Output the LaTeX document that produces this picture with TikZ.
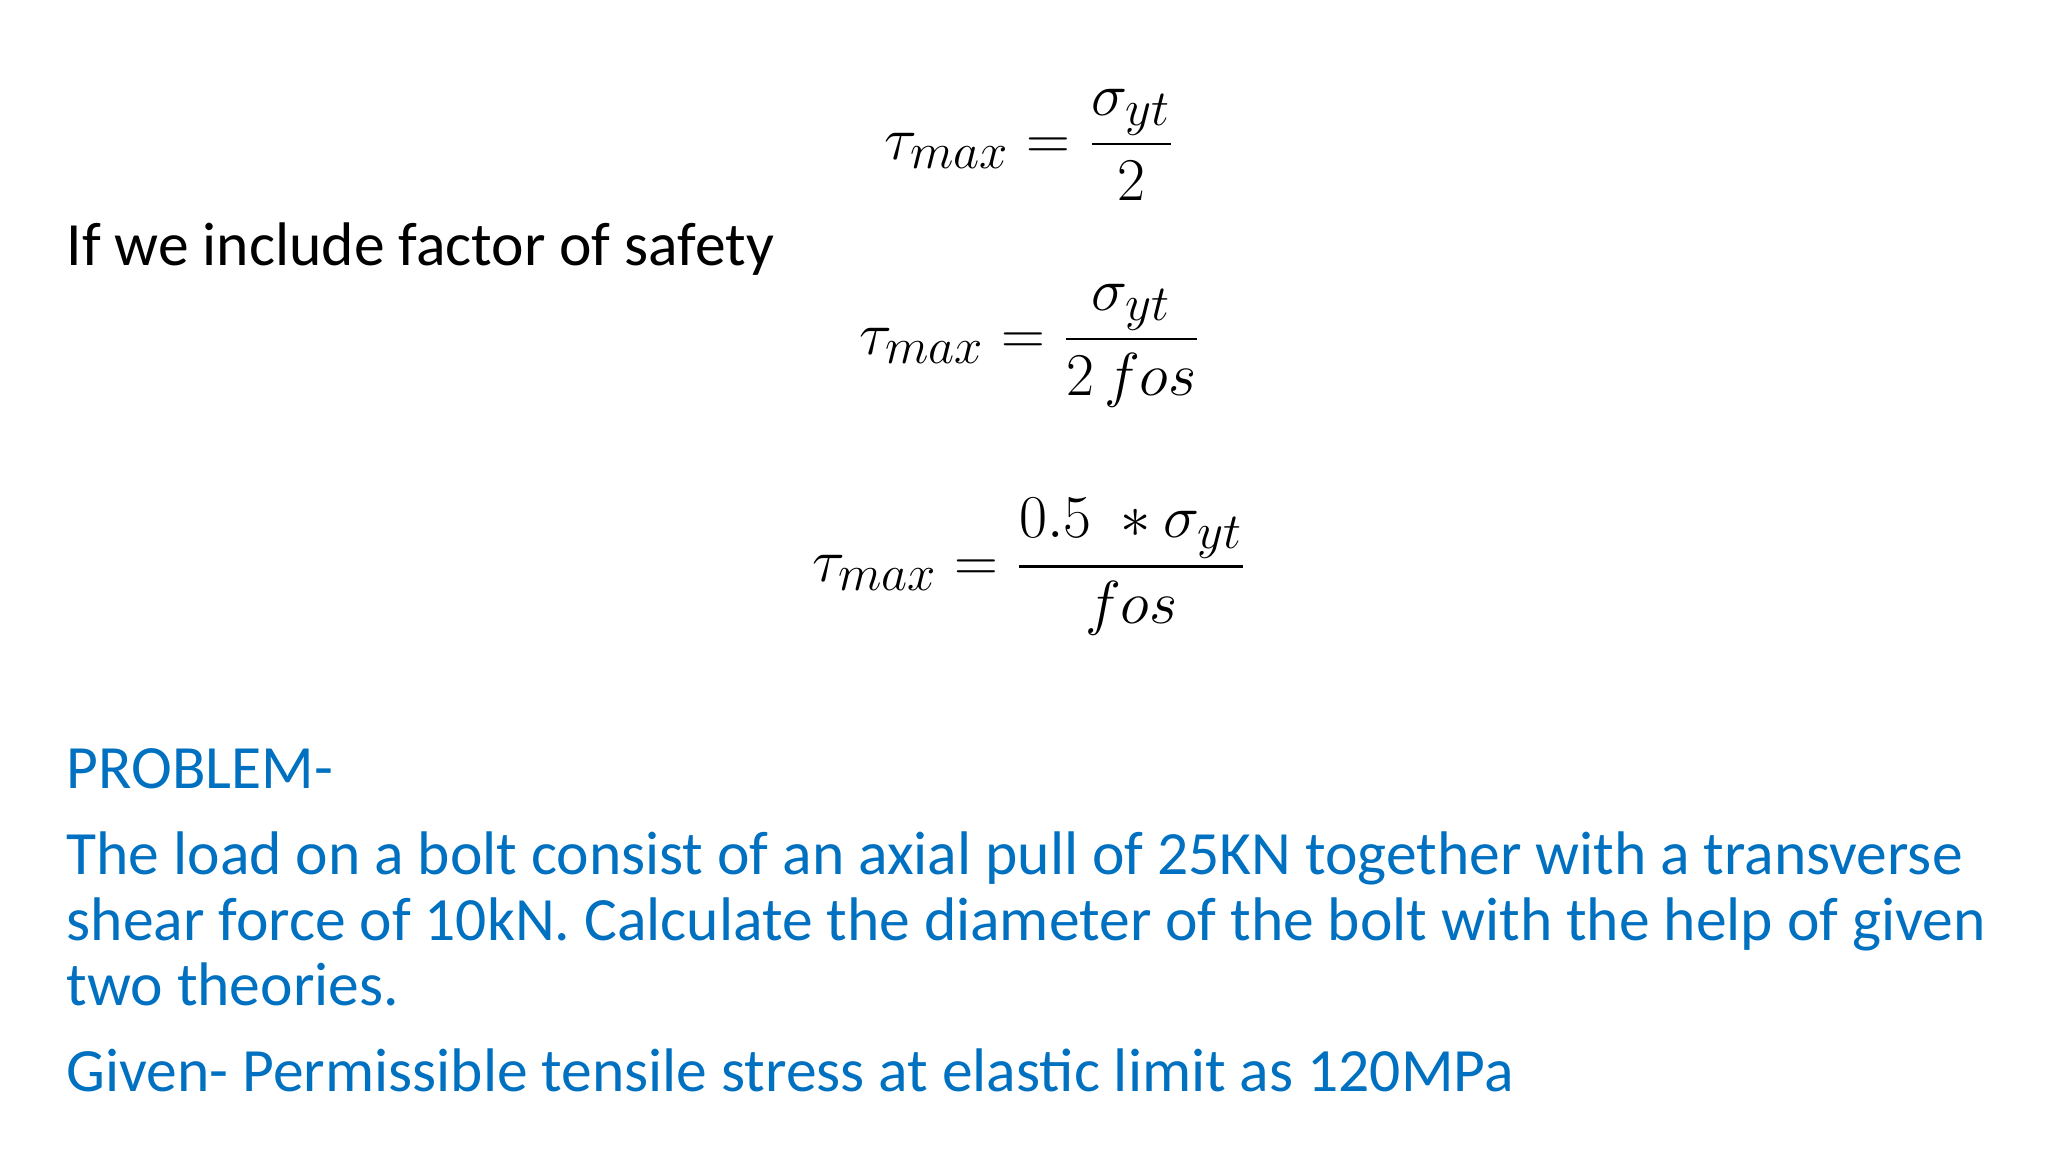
\documentclass[tikz,border=0pt]{standalone}
\usepackage{fontspec}
\setmainfont{Carlito}
\usepackage{amsmath}
\definecolor{pblue}{RGB}{0,112,192}
\begin{document}
\begin{tikzpicture}[x=0.01cm,y=-0.01cm,
  txt/.style={anchor=base west,inner sep=0pt,font=\fontsize{17.5}{21}\selectfont},
  btxt/.style={txt,text=pblue},
  eq/.style={inner sep=0pt,font=\fontsize{19}{23}\selectfont}]
\fill[white] (0,0) rectangle (2048,1152);
\useasboundingbox (0,0) rectangle (2048,1152);
\node[eq] (e1) at (1030,145) {$\displaystyle \tau_{max} = \frac{\sigma_{yt}}{2}$};
\node[txt] (t1) at (66,266) {If we include factor of safety};
\node[eq] (e2) at (1030,346) {$\displaystyle \tau_{max} = \frac{\sigma_{yt}}{2\,fos}$};
\node[eq] (e3) at (1030,567) {$\displaystyle \tau_{max} = \frac{0.5\ \ast\sigma_{yt}}{fos}$};
\node[btxt] (p0) at (66,788) {PROBLEM-};
\node[btxt] (p1) at (66,874) {The load on a bolt consist of an axial pull of 25KN together with a transverse};
\node[btxt] (p2) at (66,940) {shear force of 10kN. Calculate the diameter of the bolt with the help of given};
\node[btxt] (p3) at (66,1005) {two theories.};
\node[btxt] (p4) at (66,1091) {Given- Permissible tensile stress at elastic limit as 120MPa};
\end{tikzpicture}
\end{document}
